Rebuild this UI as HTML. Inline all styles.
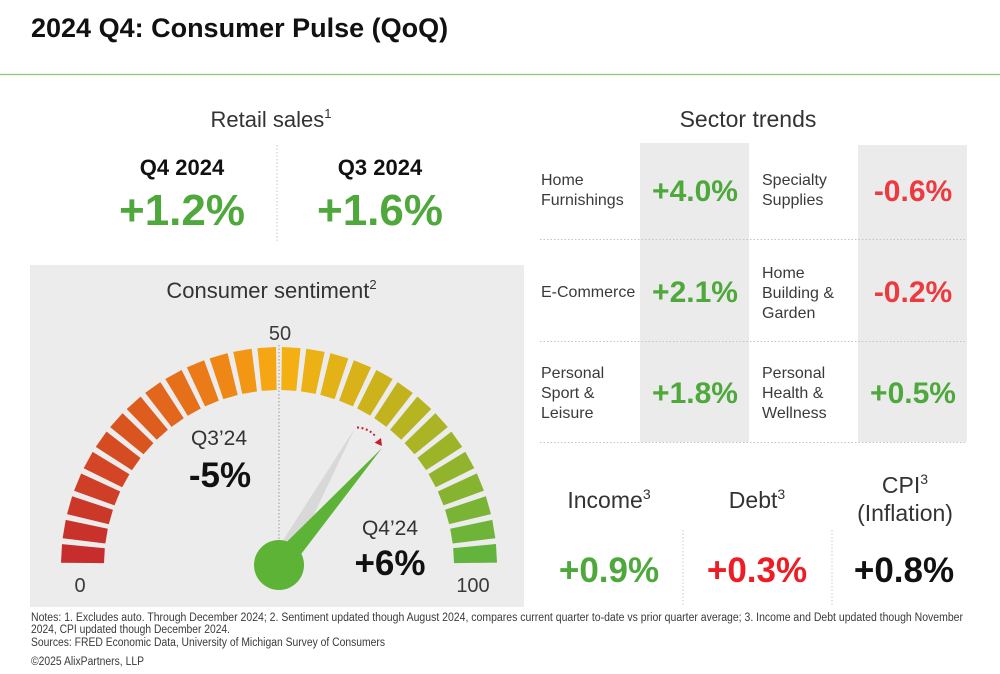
<!DOCTYPE html>
<html>
<head>
<meta charset="utf-8">
<style>
  html,body{margin:0;padding:0;background:#fff;}
  svg{display:block;}
  text{font-family:"Liberation Sans",Arial,sans-serif;}
</style>
</head>
<body>
<svg width="1000" height="674" viewBox="0 0 1000 674" xmlns="http://www.w3.org/2000/svg">
  <rect x="0" y="0" width="1000" height="674" fill="#ffffff"/>

  <!-- Title -->
  <text x="31" y="37" font-size="27" font-weight="bold" fill="#111">2024 Q4: Consumer Pulse (QoQ)</text>
  <line x1="0" y1="74.5" x2="1000" y2="74.5" stroke="#8cc47a" stroke-width="1.2"/>

  <!-- Retail sales -->
  <text x="271" y="127" font-size="22" fill="#333" text-anchor="middle">Retail sales<tspan font-size="13" dy="-9">1</tspan></text>
  <line x1="277" y1="145" x2="277" y2="243" stroke="#c8c8c8" stroke-width="1" stroke-dasharray="1.5 2"/>
  <text x="182" y="175" font-size="22" font-weight="bold" fill="#111" text-anchor="middle">Q4 2024</text>
  <text x="380" y="175" font-size="22" font-weight="bold" fill="#111" text-anchor="middle">Q3 2024</text>
  <text x="182" y="225" font-size="44" font-weight="bold" fill="#4ea83c" text-anchor="middle">+1.2%</text>
  <text x="380" y="225" font-size="44" font-weight="bold" fill="#4ea83c" text-anchor="middle">+1.6%</text>

  <!-- Gauge panel -->
  <rect x="30" y="265" width="494" height="342" fill="#ececed"/>
  <text x="271.5" y="298" font-size="22" fill="#333" text-anchor="middle">Consumer sentiment<tspan font-size="13" dy="-9">2</tspan></text>
  <text x="280" y="340" font-size="20" fill="#3a3a3a" text-anchor="middle">50</text>
  <text x="80" y="592" font-size="20" fill="#3a3a3a" text-anchor="middle">0</text>
  <text x="473" y="592" font-size="20" fill="#3a3a3a" text-anchor="middle">100</text>

  <!-- Gauge bars -->
  <g>
    <path d="M61.2,555.68 L104.16,557.52 L104.16,572.48 L61.2,574.32 Z" fill="#c62d2c" transform="rotate(3.05 279 565)"/>
    <path d="M61.2,555.68 L104.16,557.52 L104.16,572.48 L61.2,574.32 Z" fill="#c9322a" transform="rotate(9.49 279 565)"/>
    <path d="M61.2,555.68 L104.16,557.52 L104.16,572.48 L61.2,574.32 Z" fill="#cc3828" transform="rotate(15.93 279 565)"/>
    <path d="M61.2,555.68 L104.16,557.52 L104.16,572.48 L61.2,574.32 Z" fill="#cf3e26" transform="rotate(22.37 279 565)"/>
    <path d="M61.2,555.68 L104.16,557.52 L104.16,572.48 L61.2,574.32 Z" fill="#d34524" transform="rotate(28.81 279 565)"/>
    <path d="M61.2,555.68 L104.16,557.52 L104.16,572.48 L61.2,574.32 Z" fill="#d64c22" transform="rotate(35.25 279 565)"/>
    <path d="M61.2,555.68 L104.16,557.52 L104.16,572.48 L61.2,574.32 Z" fill="#da5420" transform="rotate(41.69 279 565)"/>
    <path d="M61.2,555.68 L104.16,557.52 L104.16,572.48 L61.2,574.32 Z" fill="#de5d1e" transform="rotate(48.13 279 565)"/>
    <path d="M61.2,555.68 L104.16,557.52 L104.16,572.48 L61.2,574.32 Z" fill="#e2661c" transform="rotate(54.57 279 565)"/>
    <path d="M61.2,555.68 L104.16,557.52 L104.16,572.48 L61.2,574.32 Z" fill="#e6701a" transform="rotate(61.01 279 565)"/>
    <path d="M61.2,555.68 L104.16,557.52 L104.16,572.48 L61.2,574.32 Z" fill="#ea7b18" transform="rotate(67.45 279 565)"/>
    <path d="M61.2,555.68 L104.16,557.52 L104.16,572.48 L61.2,574.32 Z" fill="#ee8716" transform="rotate(73.89 279 565)"/>
    <path d="M61.2,555.68 L104.16,557.52 L104.16,572.48 L61.2,574.32 Z" fill="#f29614" transform="rotate(80.33 279 565)"/>
    <path d="M61.2,555.68 L104.16,557.52 L104.16,572.48 L61.2,574.32 Z" fill="#f6a612" transform="rotate(86.77 279 565)"/>
    <path d="M61.2,555.68 L104.16,557.52 L104.16,572.48 L61.2,574.32 Z" fill="#f4b012" transform="rotate(93.21 279 565)"/>
    <path d="M61.2,555.68 L104.16,557.52 L104.16,572.48 L61.2,574.32 Z" fill="#ecb114" transform="rotate(99.65 279 565)"/>
    <path d="M61.2,555.68 L104.16,557.52 L104.16,572.48 L61.2,574.32 Z" fill="#e2b216" transform="rotate(106.09 279 565)"/>
    <path d="M61.2,555.68 L104.16,557.52 L104.16,572.48 L61.2,574.32 Z" fill="#d8b218" transform="rotate(112.53 279 565)"/>
    <path d="M61.2,555.68 L104.16,557.52 L104.16,572.48 L61.2,574.32 Z" fill="#cdb31b" transform="rotate(118.97 279 565)"/>
    <path d="M61.2,555.68 L104.16,557.52 L104.16,572.48 L61.2,574.32 Z" fill="#c2b31e" transform="rotate(125.41 279 565)"/>
    <path d="M61.2,555.68 L104.16,557.52 L104.16,572.48 L61.2,574.32 Z" fill="#b6b421" transform="rotate(131.85 279 565)"/>
    <path d="M61.2,555.68 L104.16,557.52 L104.16,572.48 L61.2,574.32 Z" fill="#aab424" transform="rotate(138.29 279 565)"/>
    <path d="M61.2,555.68 L104.16,557.52 L104.16,572.48 L61.2,574.32 Z" fill="#9eb428" transform="rotate(144.73 279 565)"/>
    <path d="M61.2,555.68 L104.16,557.52 L104.16,572.48 L61.2,574.32 Z" fill="#92b42c" transform="rotate(151.17 279 565)"/>
    <path d="M61.2,555.68 L104.16,557.52 L104.16,572.48 L61.2,574.32 Z" fill="#86b430" transform="rotate(157.61 279 565)"/>
    <path d="M61.2,555.68 L104.16,557.52 L104.16,572.48 L61.2,574.32 Z" fill="#7ab434" transform="rotate(164.05 279 565)"/>
    <path d="M61.2,555.68 L104.16,557.52 L104.16,572.48 L61.2,574.32 Z" fill="#6eb438" transform="rotate(170.49 279 565)"/>
    <path d="M61.2,555.68 L104.16,557.52 L104.16,572.48 L61.2,574.32 Z" fill="#62b43c" transform="rotate(176.93 279 565)"/>
  </g>

  <!-- 50 dotted line -->
  <line x1="279" y1="345" x2="279" y2="548" stroke="#9a9a9a" stroke-width="1" stroke-dasharray="1.5 2"/>

  <!-- Gauge value labels -->
  <text x="219" y="445" font-size="21" fill="#333" text-anchor="middle">Q3’24</text>
  <text x="220" y="487" font-size="35" font-weight="bold" fill="#111" text-anchor="middle">-5%</text>
  <text x="390" y="535" font-size="21" fill="#333" text-anchor="middle">Q4’24</text>
  <text x="390" y="575" font-size="35" font-weight="bold" fill="#111" text-anchor="middle">+6%</text>

  <!-- Needles -->
  <polygon points="355,428 287.7,569.9 270.3,560.2" fill="#d8d8d9"/>
  <polygon points="382,448 287.25,572.3 270.75,557.7" fill="#5cb336"/>
  <circle cx="279" cy="565" r="25" fill="#5cb336"/>
  <!-- red dotted arrow -->
  <path d="M357,427.5 Q369,428 376,437" fill="none" stroke="#c8202a" stroke-width="2" stroke-dasharray="2 2.5"/>
  <polygon points="382,446 374.6,442.8 381,438" fill="#c8202a"/>

  <!-- Sector trends -->
  <text x="748" y="127" font-size="23" fill="#333" text-anchor="middle">Sector trends</text>
  <rect x="640" y="143" width="109" height="299" fill="#ebebec"/>
  <rect x="858" y="145" width="109" height="297" fill="#ebebec"/>
  <line x1="540" y1="239.5" x2="967" y2="239.5" stroke="#c4c4c4" stroke-width="1" stroke-dasharray="1.5 2"/>
  <line x1="540" y1="341.5" x2="967" y2="341.5" stroke="#c4c4c4" stroke-width="1" stroke-dasharray="1.5 2"/>
  <line x1="540" y1="442.5" x2="967" y2="442.5" stroke="#c4c4c4" stroke-width="1" stroke-dasharray="1.5 2"/>

  <g font-size="16" fill="#3a3a3a">
    <text x="541" y="185">Home</text>
    <text x="541" y="205">Furnishings</text>
    <text x="762" y="185">Specialty</text>
    <text x="762" y="205">Supplies</text>

    <text x="541" y="297">E-Commerce</text>
    <text x="762" y="278">Home</text>
    <text x="762" y="298">Building &amp;</text>
    <text x="762" y="318">Garden</text>

    <text x="541" y="378">Personal</text>
    <text x="541" y="398">Sport &amp;</text>
    <text x="541" y="418">Leisure</text>
    <text x="762" y="378">Personal</text>
    <text x="762" y="398">Health &amp;</text>
    <text x="762" y="418">Wellness</text>
  </g>

  <g font-size="30" font-weight="bold" text-anchor="middle">
    <text x="695" y="201" fill="#4ea83c">+4.0%</text>
    <text x="913" y="201" fill="#ec3a3f">-0.6%</text>
    <text x="695" y="302" fill="#4ea83c">+2.1%</text>
    <text x="913" y="302" fill="#ec3a3f">-0.2%</text>
    <text x="695" y="403" fill="#4ea83c">+1.8%</text>
    <text x="913" y="403" fill="#4ea83c">+0.5%</text>
  </g>

  <!-- Bottom stats -->
  <text x="609" y="508" font-size="23" fill="#333" text-anchor="middle">Income<tspan font-size="14" dy="-9">3</tspan></text>
  <text x="757" y="508" font-size="23" fill="#333" text-anchor="middle">Debt<tspan font-size="14" dy="-9">3</tspan></text>
  <text x="905" y="493" font-size="23" fill="#333" text-anchor="middle">CPI<tspan font-size="14" dy="-9">3</tspan></text>
  <text x="905" y="521" font-size="23" fill="#333" text-anchor="middle">(Inflation)</text>
  <line x1="683" y1="530" x2="683" y2="605" stroke="#cccccc" stroke-width="1" stroke-dasharray="1.5 2"/>
  <line x1="832" y1="530" x2="832" y2="605" stroke="#cccccc" stroke-width="1" stroke-dasharray="1.5 2"/>
  <text x="609" y="582" font-size="35" font-weight="bold" fill="#4ea83c" text-anchor="middle">+0.9%</text>
  <text x="757" y="582" font-size="35" font-weight="bold" fill="#ee1c24" text-anchor="middle">+0.3%</text>
  <text x="904" y="582" font-size="35" font-weight="bold" fill="#111" text-anchor="middle">+0.8%</text>

  <!-- Notes -->
  <g font-size="11.5" fill="#3a3a3a">
    <text x="31" y="621" textLength="932" lengthAdjust="spacingAndGlyphs">Notes: 1. Excludes auto. Through December 2024; 2. Sentiment updated though August 2024, compares current quarter to-date vs prior quarter average; 3. Income and Debt updated though November</text>
    <text x="31" y="633" textLength="199" lengthAdjust="spacingAndGlyphs">2024, CPI updated though December 2024.</text>
    <text x="31" y="646" textLength="354" lengthAdjust="spacingAndGlyphs">Sources: FRED Economic Data, University of Michigan Survey of Consumers</text>
    <text x="31" y="665" textLength="113" lengthAdjust="spacingAndGlyphs">©2025 AlixPartners, LLP</text>
  </g>
</svg>
</body>
</html>
